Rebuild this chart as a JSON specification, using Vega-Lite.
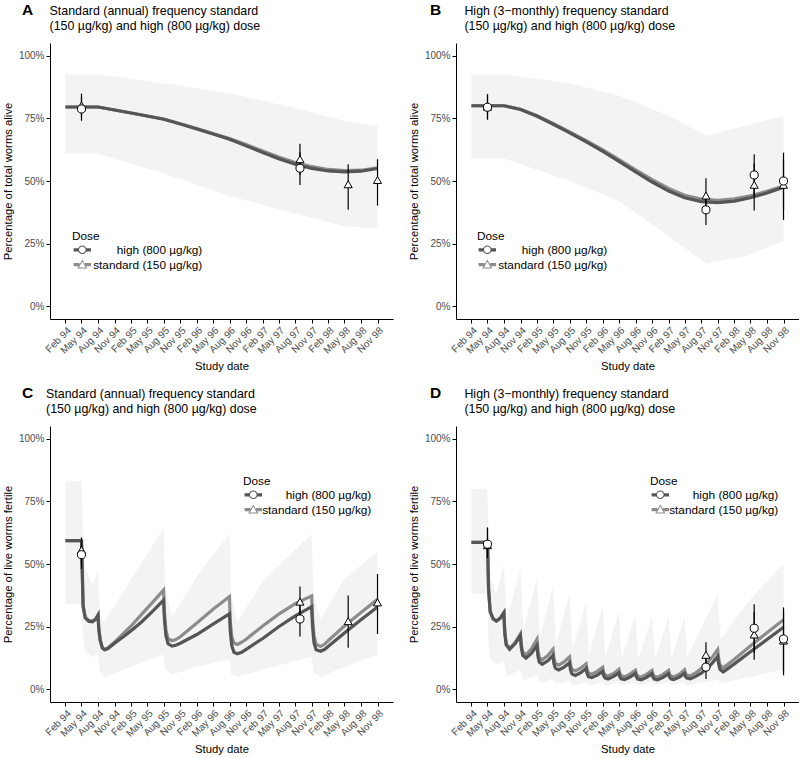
{
  "$schema": "https://vega.github.io/schema/vega-lite/v6.json",
  "padding": {"top": 2, "left": 2, "right": 0, "bottom": 0},
  "config": {
    "font": "Liberation Sans",
    "view": {"stroke": null},
    "axis": {"domainColor": "black", "tickColor": "black", "labelColor": "#4d4d4d", "titleColor": "black", "grid": false, "titleFontWeight": "normal", "titleFontSize": 11.3, "labelFontSize": 10, "tickSize": 4, "domainWidth": 1, "tickWidth": 1},
    "legend": {"labelFontSize": 11.8, "titleFontSize": 11.8, "titleFontWeight": "normal", "labelColor": "black", "titleColor": "black", "padding": 0, "titlePadding": 1.5, "rowPadding": 1.8},
    "title": {"color": "black", "subtitleColor": "black"}
  },
  "datasets": {
    "A_curve": [
      {"date": "1994-02-01", "dose": "high (800 µg/kg)", "pct": 79.5}, {"date": "1994-02-01", "dose": "standard (150 µg/kg)", "pct": 79.5},
      {"date": "1994-05-01", "dose": "high (800 µg/kg)", "pct": 79.5}, {"date": "1994-05-01", "dose": "standard (150 µg/kg)", "pct": 79.5},
      {"date": "1994-08-01", "dose": "high (800 µg/kg)", "pct": 79.5}, {"date": "1994-08-01", "dose": "standard (150 µg/kg)", "pct": 79.5},
      {"date": "1994-11-01", "dose": "high (800 µg/kg)", "pct": 78.3}, {"date": "1994-11-01", "dose": "standard (150 µg/kg)", "pct": 78.3},
      {"date": "1995-02-01", "dose": "high (800 µg/kg)", "pct": 77.1}, {"date": "1995-02-01", "dose": "standard (150 µg/kg)", "pct": 77.1},
      {"date": "1995-05-01", "dose": "high (800 µg/kg)", "pct": 75.9}, {"date": "1995-05-01", "dose": "standard (150 µg/kg)", "pct": 75.9},
      {"date": "1995-08-01", "dose": "high (800 µg/kg)", "pct": 74.6}, {"date": "1995-08-01", "dose": "standard (150 µg/kg)", "pct": 74.7},
      {"date": "1995-11-01", "dose": "high (800 µg/kg)", "pct": 72.7}, {"date": "1995-11-01", "dose": "standard (150 µg/kg)", "pct": 72.8},
      {"date": "1996-02-01", "dose": "high (800 µg/kg)", "pct": 70.7}, {"date": "1996-02-01", "dose": "standard (150 µg/kg)", "pct": 70.9},
      {"date": "1996-05-01", "dose": "high (800 µg/kg)", "pct": 68.7}, {"date": "1996-05-01", "dose": "standard (150 µg/kg)", "pct": 68.9},
      {"date": "1996-08-01", "dose": "high (800 µg/kg)", "pct": 66.6}, {"date": "1996-08-01", "dose": "standard (150 µg/kg)", "pct": 66.9},
      {"date": "1996-11-01", "dose": "high (800 µg/kg)", "pct": 64.0}, {"date": "1996-11-01", "dose": "standard (150 µg/kg)", "pct": 64.5},
      {"date": "1997-02-01", "dose": "high (800 µg/kg)", "pct": 61.4}, {"date": "1997-02-01", "dose": "standard (150 µg/kg)", "pct": 62.0},
      {"date": "1997-05-01", "dose": "high (800 µg/kg)", "pct": 58.9}, {"date": "1997-05-01", "dose": "standard (150 µg/kg)", "pct": 59.6},
      {"date": "1997-08-01", "dose": "high (800 µg/kg)", "pct": 56.7}, {"date": "1997-08-01", "dose": "standard (150 µg/kg)", "pct": 57.4},
      {"date": "1997-11-01", "dose": "high (800 µg/kg)", "pct": 55.0}, {"date": "1997-11-01", "dose": "standard (150 µg/kg)", "pct": 55.7},
      {"date": "1998-02-01", "dose": "high (800 µg/kg)", "pct": 54.0}, {"date": "1998-02-01", "dose": "standard (150 µg/kg)", "pct": 54.6},
      {"date": "1998-05-01", "dose": "high (800 µg/kg)", "pct": 53.6}, {"date": "1998-05-01", "dose": "standard (150 µg/kg)", "pct": 54.1},
      {"date": "1998-08-01", "dose": "high (800 µg/kg)", "pct": 53.9}, {"date": "1998-08-01", "dose": "standard (150 µg/kg)", "pct": 54.3},
      {"date": "1998-11-01", "dose": "high (800 µg/kg)", "pct": 55.0}, {"date": "1998-11-01", "dose": "standard (150 µg/kg)", "pct": 55.2}
    ],
    "A_band": [
      {"date": "1994-02-01", "lo": 61, "hi": 92.5}, {"date": "1994-08-01", "lo": 61, "hi": 92.5},
      {"date": "1995-08-01", "lo": 53, "hi": 89}, {"date": "1996-08-01", "lo": 44, "hi": 85},
      {"date": "1997-08-01", "lo": 37, "hi": 79}, {"date": "1998-05-01", "lo": 32, "hi": 74},
      {"date": "1998-11-01", "lo": 31, "hi": 72}
    ],
    "A_obs": [
      {"date": "1994-05-01", "dose": "standard (150 µg/kg)", "pct": 80.1, "lo": 75.5, "hi": 84.8},
      {"date": "1997-08-27", "dose": "standard (150 µg/kg)", "pct": 58.7, "lo": 52.5, "hi": 64.8},
      {"date": "1998-05-22", "dose": "standard (150 µg/kg)", "pct": 48.7, "lo": 38.5, "hi": 56.7},
      {"date": "1998-11-01", "dose": "standard (150 µg/kg)", "pct": 50.4, "lo": 40.2, "hi": 58.7},
      {"date": "1994-05-01", "dose": "high (800 µg/kg)", "pct": 78.7, "lo": 74, "hi": 84},
      {"date": "1997-08-27", "dose": "high (800 µg/kg)", "pct": 55.1, "lo": 48.4, "hi": 61.5}
    ],
    "B_curve": [
      {"date": "1994-02-01", "dose": "high (800 µg/kg)", "pct": 80}, {"date": "1994-02-01", "dose": "standard (150 µg/kg)", "pct": 80},
      {"date": "1994-05-01", "dose": "high (800 µg/kg)", "pct": 80}, {"date": "1994-05-01", "dose": "standard (150 µg/kg)", "pct": 80},
      {"date": "1994-08-01", "dose": "high (800 µg/kg)", "pct": 80}, {"date": "1994-08-01", "dose": "standard (150 µg/kg)", "pct": 80},
      {"date": "1994-11-01", "dose": "high (800 µg/kg)", "pct": 78.5}, {"date": "1994-11-01", "dose": "standard (150 µg/kg)", "pct": 78.6},
      {"date": "1995-02-01", "dose": "high (800 µg/kg)", "pct": 75.8}, {"date": "1995-02-01", "dose": "standard (150 µg/kg)", "pct": 76.0},
      {"date": "1995-05-01", "dose": "high (800 µg/kg)", "pct": 72.6}, {"date": "1995-05-01", "dose": "standard (150 µg/kg)", "pct": 72.9},
      {"date": "1995-08-01", "dose": "high (800 µg/kg)", "pct": 69.2}, {"date": "1995-08-01", "dose": "standard (150 µg/kg)", "pct": 69.6},
      {"date": "1995-11-01", "dose": "high (800 µg/kg)", "pct": 65.6}, {"date": "1995-11-01", "dose": "standard (150 µg/kg)", "pct": 66.1},
      {"date": "1996-02-01", "dose": "high (800 µg/kg)", "pct": 61.8}, {"date": "1996-02-01", "dose": "standard (150 µg/kg)", "pct": 62.4},
      {"date": "1996-05-01", "dose": "high (800 µg/kg)", "pct": 57.8}, {"date": "1996-05-01", "dose": "standard (150 µg/kg)", "pct": 58.5},
      {"date": "1996-08-01", "dose": "high (800 µg/kg)", "pct": 53.6}, {"date": "1996-08-01", "dose": "standard (150 µg/kg)", "pct": 54.4},
      {"date": "1996-11-01", "dose": "high (800 µg/kg)", "pct": 49.6}, {"date": "1996-11-01", "dose": "standard (150 µg/kg)", "pct": 50.5},
      {"date": "1997-02-01", "dose": "high (800 µg/kg)", "pct": 46.0}, {"date": "1997-02-01", "dose": "standard (150 µg/kg)", "pct": 47.0},
      {"date": "1997-05-01", "dose": "high (800 µg/kg)", "pct": 43.3}, {"date": "1997-05-01", "dose": "standard (150 µg/kg)", "pct": 44.3},
      {"date": "1997-08-01", "dose": "high (800 µg/kg)", "pct": 41.8}, {"date": "1997-08-01", "dose": "standard (150 µg/kg)", "pct": 42.8},
      {"date": "1997-11-01", "dose": "high (800 µg/kg)", "pct": 41.4}, {"date": "1997-11-01", "dose": "standard (150 µg/kg)", "pct": 42.3},
      {"date": "1998-02-01", "dose": "high (800 µg/kg)", "pct": 42.0}, {"date": "1998-02-01", "dose": "standard (150 µg/kg)", "pct": 42.9},
      {"date": "1998-05-01", "dose": "high (800 µg/kg)", "pct": 43.3}, {"date": "1998-05-01", "dose": "standard (150 µg/kg)", "pct": 44.1},
      {"date": "1998-08-01", "dose": "high (800 µg/kg)", "pct": 45.2}, {"date": "1998-08-01", "dose": "standard (150 µg/kg)", "pct": 45.9},
      {"date": "1998-11-01", "dose": "high (800 µg/kg)", "pct": 47.5}, {"date": "1998-11-01", "dose": "standard (150 µg/kg)", "pct": 48.0}
    ],
    "B_band": [
      {"date": "1994-02-01", "lo": 59, "hi": 92.5}, {"date": "1994-08-01", "lo": 59, "hi": 92.5},
      {"date": "1995-08-01", "lo": 50, "hi": 89}, {"date": "1996-05-01", "lo": 42, "hi": 84},
      {"date": "1997-02-01", "lo": 28, "hi": 76}, {"date": "1997-09-01", "lo": 17, "hi": 68},
      {"date": "1998-04-01", "lo": 20, "hi": 72}, {"date": "1998-11-01", "lo": 26, "hi": 76}
    ],
    "B_obs": [
      {"date": "1994-05-01", "dose": "standard (150 µg/kg)", "pct": 79.6, "lo": 74.8, "hi": 84.4},
      {"date": "1997-08-27", "dose": "standard (150 µg/kg)", "pct": 44.2, "lo": 37.5, "hi": 51.1},
      {"date": "1998-05-22", "dose": "standard (150 µg/kg)", "pct": 48.5, "lo": 38.2, "hi": 57},
      {"date": "1998-11-01", "dose": "standard (150 µg/kg)", "pct": 48.5, "lo": 34.5, "hi": 58},
      {"date": "1994-05-01", "dose": "high (800 µg/kg)", "pct": 79.4, "lo": 74.4, "hi": 84.6},
      {"date": "1997-08-27", "dose": "high (800 µg/kg)", "pct": 38.5, "lo": 32.5, "hi": 45},
      {"date": "1998-05-22", "dose": "high (800 µg/kg)", "pct": 52.4, "lo": 44, "hi": 60.7},
      {"date": "1998-11-01", "dose": "high (800 µg/kg)", "pct": 50, "lo": 38.5, "hi": 61.3}
    ],
    "C_curve": [
      {"date": "1994-02-01", "dose": "high (800 µg/kg)", "pct": 59.3}, {"date": "1994-02-01", "dose": "standard (150 µg/kg)", "pct": 59.3},
      {"date": "1994-05-01", "dose": "high (800 µg/kg)", "pct": 59.3}, {"date": "1994-05-01", "dose": "standard (150 µg/kg)", "pct": 59.3},
      {"date": "1994-05-10", "dose": "high (800 µg/kg)", "pct": 33.0}, {"date": "1994-05-10", "dose": "standard (150 µg/kg)", "pct": 33.5},
      {"date": "1994-05-22", "dose": "high (800 µg/kg)", "pct": 28.5}, {"date": "1994-05-22", "dose": "standard (150 µg/kg)", "pct": 28.8},
      {"date": "1994-06-10", "dose": "high (800 µg/kg)", "pct": 27.2}, {"date": "1994-06-10", "dose": "standard (150 µg/kg)", "pct": 27.4},
      {"date": "1994-07-01", "dose": "high (800 µg/kg)", "pct": 27.0}, {"date": "1994-07-01", "dose": "standard (150 µg/kg)", "pct": 27.2},
      {"date": "1994-07-19", "dose": "high (800 µg/kg)", "pct": 28.0}, {"date": "1994-07-19", "dose": "standard (150 µg/kg)", "pct": 28.2},
      {"date": "1994-08-01", "dose": "high (800 µg/kg)", "pct": 29.6}, {"date": "1994-08-01", "dose": "standard (150 µg/kg)", "pct": 29.8},
      {"date": "1994-08-05", "dose": "high (800 µg/kg)", "pct": 24.0}, {"date": "1994-08-05", "dose": "standard (150 µg/kg)", "pct": 24.3},
      {"date": "1994-08-13", "dose": "high (800 µg/kg)", "pct": 19.5}, {"date": "1994-08-13", "dose": "standard (150 µg/kg)", "pct": 19.7},
      {"date": "1994-08-25", "dose": "high (800 µg/kg)", "pct": 16.5}, {"date": "1994-08-25", "dose": "standard (150 µg/kg)", "pct": 16.6},
      {"date": "1994-09-07", "dose": "high (800 µg/kg)", "pct": 15.8}, {"date": "1994-09-07", "dose": "standard (150 µg/kg)", "pct": 15.9},
      {"date": "1994-09-25", "dose": "high (800 µg/kg)", "pct": 16.3}, {"date": "1994-09-25", "dose": "standard (150 µg/kg)", "pct": 16.5},
      {"date": "1994-11-01", "dose": "high (800 µg/kg)", "pct": 18.4}, {"date": "1994-11-01", "dose": "standard (150 µg/kg)", "pct": 18.9},
      {"date": "1994-12-16", "dose": "high (800 µg/kg)", "pct": 20.8}, {"date": "1994-12-16", "dose": "standard (150 µg/kg)", "pct": 22.0},
      {"date": "1995-02-01", "dose": "high (800 µg/kg)", "pct": 23.4}, {"date": "1995-02-01", "dose": "standard (150 µg/kg)", "pct": 25.3},
      {"date": "1995-04-01", "dose": "high (800 µg/kg)", "pct": 27.0}, {"date": "1995-04-01", "dose": "standard (150 µg/kg)", "pct": 30.0},
      {"date": "1995-06-01", "dose": "high (800 µg/kg)", "pct": 31.2}, {"date": "1995-06-01", "dose": "standard (150 µg/kg)", "pct": 34.8},
      {"date": "1995-07-31", "dose": "high (800 µg/kg)", "pct": 35.6}, {"date": "1995-07-31", "dose": "standard (150 µg/kg)", "pct": 39.6},
      {"date": "1995-08-05", "dose": "high (800 µg/kg)", "pct": 28.0}, {"date": "1995-08-05", "dose": "standard (150 µg/kg)", "pct": 30.5},
      {"date": "1995-08-13", "dose": "high (800 µg/kg)", "pct": 21.5}, {"date": "1995-08-13", "dose": "standard (150 µg/kg)", "pct": 23.5},
      {"date": "1995-08-25", "dose": "high (800 µg/kg)", "pct": 18.2}, {"date": "1995-08-25", "dose": "standard (150 µg/kg)", "pct": 20.2},
      {"date": "1995-09-16", "dose": "high (800 µg/kg)", "pct": 17.3}, {"date": "1995-09-16", "dose": "standard (150 µg/kg)", "pct": 19.4},
      {"date": "1995-10-07", "dose": "high (800 µg/kg)", "pct": 17.6}, {"date": "1995-10-07", "dose": "standard (150 µg/kg)", "pct": 19.9},
      {"date": "1995-11-01", "dose": "high (800 µg/kg)", "pct": 18.4}, {"date": "1995-11-01", "dose": "standard (150 µg/kg)", "pct": 21.0},
      {"date": "1996-02-01", "dose": "high (800 µg/kg)", "pct": 21.9}, {"date": "1996-02-01", "dose": "standard (150 µg/kg)", "pct": 26.5},
      {"date": "1996-05-01", "dose": "high (800 µg/kg)", "pct": 26.0}, {"date": "1996-05-01", "dose": "standard (150 µg/kg)", "pct": 32.0},
      {"date": "1996-07-31", "dose": "high (800 µg/kg)", "pct": 30.1}, {"date": "1996-07-31", "dose": "standard (150 µg/kg)", "pct": 37.0},
      {"date": "1996-08-05", "dose": "high (800 µg/kg)", "pct": 23.0}, {"date": "1996-08-05", "dose": "standard (150 µg/kg)", "pct": 27.0},
      {"date": "1996-08-13", "dose": "high (800 µg/kg)", "pct": 17.5}, {"date": "1996-08-13", "dose": "standard (150 µg/kg)", "pct": 21.0},
      {"date": "1996-08-25", "dose": "high (800 µg/kg)", "pct": 14.8}, {"date": "1996-08-25", "dose": "standard (150 µg/kg)", "pct": 18.5},
      {"date": "1996-09-13", "dose": "high (800 µg/kg)", "pct": 14.2}, {"date": "1996-09-13", "dose": "standard (150 µg/kg)", "pct": 17.9},
      {"date": "1996-10-07", "dose": "high (800 µg/kg)", "pct": 14.8}, {"date": "1996-10-07", "dose": "standard (150 µg/kg)", "pct": 18.8},
      {"date": "1996-11-01", "dose": "high (800 µg/kg)", "pct": 16.0}, {"date": "1996-11-01", "dose": "standard (150 µg/kg)", "pct": 20.0},
      {"date": "1997-02-01", "dose": "high (800 µg/kg)", "pct": 20.3}, {"date": "1997-02-01", "dose": "standard (150 µg/kg)", "pct": 25.3},
      {"date": "1997-05-01", "dose": "high (800 µg/kg)", "pct": 25.0}, {"date": "1997-05-01", "dose": "standard (150 µg/kg)", "pct": 30.0},
      {"date": "1997-08-01", "dose": "high (800 µg/kg)", "pct": 29.3}, {"date": "1997-08-01", "dose": "standard (150 µg/kg)", "pct": 34.2},
      {"date": "1997-10-31", "dose": "high (800 µg/kg)", "pct": 33.0}, {"date": "1997-10-31", "dose": "standard (150 µg/kg)", "pct": 37.3},
      {"date": "1997-11-05", "dose": "high (800 µg/kg)", "pct": 25.0}, {"date": "1997-11-05", "dose": "standard (150 µg/kg)", "pct": 28.0},
      {"date": "1997-11-13", "dose": "high (800 µg/kg)", "pct": 18.5}, {"date": "1997-11-13", "dose": "standard (150 µg/kg)", "pct": 21.5},
      {"date": "1997-11-25", "dose": "high (800 µg/kg)", "pct": 15.8}, {"date": "1997-11-25", "dose": "standard (150 µg/kg)", "pct": 18.0},
      {"date": "1997-12-19", "dose": "high (800 µg/kg)", "pct": 15.2}, {"date": "1997-12-19", "dose": "standard (150 µg/kg)", "pct": 17.1},
      {"date": "1998-01-10", "dose": "high (800 µg/kg)", "pct": 15.9}, {"date": "1998-01-10", "dose": "standard (150 µg/kg)", "pct": 18.0},
      {"date": "1998-02-01", "dose": "high (800 µg/kg)", "pct": 17.2}, {"date": "1998-02-01", "dose": "standard (150 µg/kg)", "pct": 19.5},
      {"date": "1998-05-01", "dose": "high (800 µg/kg)", "pct": 22.5}, {"date": "1998-05-01", "dose": "standard (150 µg/kg)", "pct": 25.3},
      {"date": "1998-08-01", "dose": "high (800 µg/kg)", "pct": 27.8}, {"date": "1998-08-01", "dose": "standard (150 µg/kg)", "pct": 30.7},
      {"date": "1998-11-01", "dose": "high (800 µg/kg)", "pct": 32.9}, {"date": "1998-11-01", "dose": "standard (150 µg/kg)", "pct": 35.9}
    ],
    "C_band": [
      {"date": "1994-02-01", "lo": 34, "hi": 83}, {"date": "1994-04-30", "lo": 34, "hi": 83},
      {"date": "1994-05-10", "lo": 20, "hi": 62}, {"date": "1994-05-22", "lo": 15, "hi": 48},
      {"date": "1994-07-01", "lo": 13, "hi": 42}, {"date": "1994-07-31", "lo": 14, "hi": 47},
      {"date": "1994-08-10", "lo": 7, "hi": 30}, {"date": "1994-09-07", "lo": 5, "hi": 27},
      {"date": "1995-02-01", "lo": 9, "hi": 44}, {"date": "1995-07-31", "lo": 14, "hi": 64},
      {"date": "1995-08-10", "lo": 8, "hi": 40}, {"date": "1995-09-16", "lo": 6, "hi": 29},
      {"date": "1996-02-01", "lo": 9, "hi": 45}, {"date": "1996-07-31", "lo": 12, "hi": 62},
      {"date": "1996-08-10", "lo": 6, "hi": 38}, {"date": "1996-09-13", "lo": 5, "hi": 27},
      {"date": "1997-02-01", "lo": 8, "hi": 43}, {"date": "1997-10-31", "lo": 13, "hi": 62},
      {"date": "1997-11-10", "lo": 7, "hi": 38}, {"date": "1997-12-19", "lo": 5, "hi": 28},
      {"date": "1998-05-01", "lo": 9, "hi": 44}, {"date": "1998-11-01", "lo": 14, "hi": 55}
    ],
    "C_obs": [
      {"date": "1994-05-01", "dose": "standard (150 µg/kg)", "pct": 55.6, "lo": 50, "hi": 60.6},
      {"date": "1997-08-27", "dose": "standard (150 µg/kg)", "pct": 35, "lo": 29, "hi": 41},
      {"date": "1998-05-22", "dose": "standard (150 µg/kg)", "pct": 27.2, "lo": 16.6, "hi": 37.4},
      {"date": "1998-11-01", "dose": "standard (150 µg/kg)", "pct": 34.7, "lo": 22.1, "hi": 46},
      {"date": "1994-05-01", "dose": "high (800 µg/kg)", "pct": 53.7, "lo": 48, "hi": 59},
      {"date": "1997-08-27", "dose": "high (800 µg/kg)", "pct": 28.1, "lo": 21.1, "hi": 35}
    ],
    "D_curve": [
      {"date": "1994-02-01", "dose": "high (800 µg/kg)", "pct": 58.6}, {"date": "1994-02-01", "dose": "standard (150 µg/kg)", "pct": 58.6},
      {"date": "1994-05-01", "dose": "high (800 µg/kg)", "pct": 58.6}, {"date": "1994-05-01", "dose": "standard (150 µg/kg)", "pct": 58.6},
      {"date": "1994-05-07", "dose": "high (800 µg/kg)", "pct": 40.0}, {"date": "1994-05-07", "dose": "standard (150 µg/kg)", "pct": 40.0},
      {"date": "1994-05-16", "dose": "high (800 µg/kg)", "pct": 31.0}, {"date": "1994-05-16", "dose": "standard (150 µg/kg)", "pct": 31.0},
      {"date": "1994-06-01", "dose": "high (800 µg/kg)", "pct": 28.2}, {"date": "1994-06-01", "dose": "standard (150 µg/kg)", "pct": 28.2},
      {"date": "1994-06-19", "dose": "high (800 µg/kg)", "pct": 27.3}, {"date": "1994-06-19", "dose": "standard (150 µg/kg)", "pct": 27.3},
      {"date": "1994-07-10", "dose": "high (800 µg/kg)", "pct": 28.3}, {"date": "1994-07-10", "dose": "standard (150 µg/kg)", "pct": 28.3},
      {"date": "1994-07-31", "dose": "high (800 µg/kg)", "pct": 30.6}, {"date": "1994-07-31", "dose": "standard (150 µg/kg)", "pct": 30.6},
      {"date": "1994-08-05", "dose": "high (800 µg/kg)", "pct": 22.6}, {"date": "1994-08-05", "dose": "standard (150 µg/kg)", "pct": 22.8},
      {"date": "1994-08-13", "dose": "high (800 µg/kg)", "pct": 17.8}, {"date": "1994-08-13", "dose": "standard (150 µg/kg)", "pct": 18.1},
      {"date": "1994-09-01", "dose": "high (800 µg/kg)", "pct": 16.0}, {"date": "1994-09-01", "dose": "standard (150 µg/kg)", "pct": 16.4},
      {"date": "1994-10-01", "dose": "high (800 µg/kg)", "pct": 18.2}, {"date": "1994-10-01", "dose": "standard (150 µg/kg)", "pct": 18.7},
      {"date": "1994-10-31", "dose": "high (800 µg/kg)", "pct": 21.5}, {"date": "1994-10-31", "dose": "standard (150 µg/kg)", "pct": 22.2},
      {"date": "1994-11-05", "dose": "high (800 µg/kg)", "pct": 16.6}, {"date": "1994-11-05", "dose": "standard (150 µg/kg)", "pct": 17.6},
      {"date": "1994-11-13", "dose": "high (800 µg/kg)", "pct": 13.6}, {"date": "1994-11-13", "dose": "standard (150 µg/kg)", "pct": 14.8},
      {"date": "1994-12-01", "dose": "high (800 µg/kg)", "pct": 12.5}, {"date": "1994-12-01", "dose": "standard (150 µg/kg)", "pct": 13.8},
      {"date": "1995-01-01", "dose": "high (800 µg/kg)", "pct": 14.5}, {"date": "1995-01-01", "dose": "standard (150 µg/kg)", "pct": 16.3},
      {"date": "1995-01-31", "dose": "high (800 µg/kg)", "pct": 17.6}, {"date": "1995-01-31", "dose": "standard (150 µg/kg)", "pct": 20.0},
      {"date": "1995-02-05", "dose": "high (800 µg/kg)", "pct": 13.4}, {"date": "1995-02-05", "dose": "standard (150 µg/kg)", "pct": 15.5},
      {"date": "1995-02-13", "dose": "high (800 µg/kg)", "pct": 10.9}, {"date": "1995-02-13", "dose": "standard (150 µg/kg)", "pct": 12.8},
      {"date": "1995-03-01", "dose": "high (800 µg/kg)", "pct": 10.0}, {"date": "1995-03-01", "dose": "standard (150 µg/kg)", "pct": 11.8},
      {"date": "1995-04-01", "dose": "high (800 µg/kg)", "pct": 11.4}, {"date": "1995-04-01", "dose": "standard (150 µg/kg)", "pct": 13.5},
      {"date": "1995-04-30", "dose": "high (800 µg/kg)", "pct": 13.6}, {"date": "1995-04-30", "dose": "standard (150 µg/kg)", "pct": 16.0},
      {"date": "1995-05-05", "dose": "high (800 µg/kg)", "pct": 10.4}, {"date": "1995-05-05", "dose": "standard (150 µg/kg)", "pct": 12.5},
      {"date": "1995-05-13", "dose": "high (800 µg/kg)", "pct": 8.5}, {"date": "1995-05-13", "dose": "standard (150 µg/kg)", "pct": 10.5},
      {"date": "1995-06-01", "dose": "high (800 µg/kg)", "pct": 7.8}, {"date": "1995-06-01", "dose": "standard (150 µg/kg)", "pct": 9.7},
      {"date": "1995-07-01", "dose": "high (800 µg/kg)", "pct": 8.9}, {"date": "1995-07-01", "dose": "standard (150 µg/kg)", "pct": 11.0},
      {"date": "1995-07-31", "dose": "high (800 µg/kg)", "pct": 10.6}, {"date": "1995-07-31", "dose": "standard (150 µg/kg)", "pct": 13.0},
      {"date": "1995-08-05", "dose": "high (800 µg/kg)", "pct": 7.9}, {"date": "1995-08-05", "dose": "standard (150 µg/kg)", "pct": 9.9},
      {"date": "1995-08-13", "dose": "high (800 µg/kg)", "pct": 6.2}, {"date": "1995-08-13", "dose": "standard (150 µg/kg)", "pct": 8.1},
      {"date": "1995-09-01", "dose": "high (800 µg/kg)", "pct": 5.6}, {"date": "1995-09-01", "dose": "standard (150 µg/kg)", "pct": 7.4},
      {"date": "1995-10-01", "dose": "high (800 µg/kg)", "pct": 6.7}, {"date": "1995-10-01", "dose": "standard (150 µg/kg)", "pct": 8.5},
      {"date": "1995-10-31", "dose": "high (800 µg/kg)", "pct": 8.4}, {"date": "1995-10-31", "dose": "standard (150 µg/kg)", "pct": 10.2},
      {"date": "1995-11-05", "dose": "high (800 µg/kg)", "pct": 6.4}, {"date": "1995-11-05", "dose": "standard (150 µg/kg)", "pct": 8.0},
      {"date": "1995-11-13", "dose": "high (800 µg/kg)", "pct": 5.1}, {"date": "1995-11-13", "dose": "standard (150 µg/kg)", "pct": 6.6},
      {"date": "1995-12-01", "dose": "high (800 µg/kg)", "pct": 4.7}, {"date": "1995-12-01", "dose": "standard (150 µg/kg)", "pct": 6.1},
      {"date": "1996-01-01", "dose": "high (800 µg/kg)", "pct": 5.7}, {"date": "1996-01-01", "dose": "standard (150 µg/kg)", "pct": 7.2},
      {"date": "1996-01-31", "dose": "high (800 µg/kg)", "pct": 7.2}, {"date": "1996-01-31", "dose": "standard (150 µg/kg)", "pct": 8.8},
      {"date": "1996-02-05", "dose": "high (800 µg/kg)", "pct": 5.6}, {"date": "1996-02-05", "dose": "standard (150 µg/kg)", "pct": 6.9},
      {"date": "1996-02-13", "dose": "high (800 µg/kg)", "pct": 4.6}, {"date": "1996-02-13", "dose": "standard (150 µg/kg)", "pct": 5.8},
      {"date": "1996-03-01", "dose": "high (800 µg/kg)", "pct": 4.2}, {"date": "1996-03-01", "dose": "standard (150 µg/kg)", "pct": 5.4},
      {"date": "1996-04-01", "dose": "high (800 µg/kg)", "pct": 5.2}, {"date": "1996-04-01", "dose": "standard (150 µg/kg)", "pct": 6.4},
      {"date": "1996-04-30", "dose": "high (800 µg/kg)", "pct": 6.6}, {"date": "1996-04-30", "dose": "standard (150 µg/kg)", "pct": 8.0},
      {"date": "1996-05-05", "dose": "high (800 µg/kg)", "pct": 5.1}, {"date": "1996-05-05", "dose": "standard (150 µg/kg)", "pct": 6.4},
      {"date": "1996-05-13", "dose": "high (800 µg/kg)", "pct": 4.2}, {"date": "1996-05-13", "dose": "standard (150 µg/kg)", "pct": 5.4},
      {"date": "1996-06-01", "dose": "high (800 µg/kg)", "pct": 3.9}, {"date": "1996-06-01", "dose": "standard (150 µg/kg)", "pct": 5.0},
      {"date": "1996-07-01", "dose": "high (800 µg/kg)", "pct": 4.9}, {"date": "1996-07-01", "dose": "standard (150 µg/kg)", "pct": 6.1},
      {"date": "1996-07-31", "dose": "high (800 µg/kg)", "pct": 6.4}, {"date": "1996-07-31", "dose": "standard (150 µg/kg)", "pct": 7.7},
      {"date": "1996-08-05", "dose": "high (800 µg/kg)", "pct": 5.0}, {"date": "1996-08-05", "dose": "standard (150 µg/kg)", "pct": 6.2},
      {"date": "1996-08-13", "dose": "high (800 µg/kg)", "pct": 4.1}, {"date": "1996-08-13", "dose": "standard (150 µg/kg)", "pct": 5.2},
      {"date": "1996-09-01", "dose": "high (800 µg/kg)", "pct": 3.8}, {"date": "1996-09-01", "dose": "standard (150 µg/kg)", "pct": 4.9},
      {"date": "1996-10-01", "dose": "high (800 µg/kg)", "pct": 4.8}, {"date": "1996-10-01", "dose": "standard (150 µg/kg)", "pct": 6.0},
      {"date": "1996-10-31", "dose": "high (800 µg/kg)", "pct": 6.3}, {"date": "1996-10-31", "dose": "standard (150 µg/kg)", "pct": 7.6},
      {"date": "1996-11-05", "dose": "high (800 µg/kg)", "pct": 4.9}, {"date": "1996-11-05", "dose": "standard (150 µg/kg)", "pct": 6.1},
      {"date": "1996-11-13", "dose": "high (800 µg/kg)", "pct": 4.1}, {"date": "1996-11-13", "dose": "standard (150 µg/kg)", "pct": 5.2},
      {"date": "1996-12-01", "dose": "high (800 µg/kg)", "pct": 3.8}, {"date": "1996-12-01", "dose": "standard (150 µg/kg)", "pct": 4.9},
      {"date": "1997-01-01", "dose": "high (800 µg/kg)", "pct": 4.8}, {"date": "1997-01-01", "dose": "standard (150 µg/kg)", "pct": 6.0},
      {"date": "1997-01-31", "dose": "high (800 µg/kg)", "pct": 6.3}, {"date": "1997-01-31", "dose": "standard (150 µg/kg)", "pct": 7.6},
      {"date": "1997-02-05", "dose": "high (800 µg/kg)", "pct": 5.0}, {"date": "1997-02-05", "dose": "standard (150 µg/kg)", "pct": 6.2},
      {"date": "1997-02-13", "dose": "high (800 µg/kg)", "pct": 4.2}, {"date": "1997-02-13", "dose": "standard (150 µg/kg)", "pct": 5.3},
      {"date": "1997-03-01", "dose": "high (800 µg/kg)", "pct": 3.9}, {"date": "1997-03-01", "dose": "standard (150 µg/kg)", "pct": 5.0},
      {"date": "1997-04-01", "dose": "high (800 µg/kg)", "pct": 4.9}, {"date": "1997-04-01", "dose": "standard (150 µg/kg)", "pct": 6.1},
      {"date": "1997-04-30", "dose": "high (800 µg/kg)", "pct": 6.4}, {"date": "1997-04-30", "dose": "standard (150 µg/kg)", "pct": 7.8},
      {"date": "1997-05-05", "dose": "high (800 µg/kg)", "pct": 5.2}, {"date": "1997-05-05", "dose": "standard (150 µg/kg)", "pct": 6.5},
      {"date": "1997-05-13", "dose": "high (800 µg/kg)", "pct": 4.5}, {"date": "1997-05-13", "dose": "standard (150 µg/kg)", "pct": 5.7},
      {"date": "1997-06-01", "dose": "high (800 µg/kg)", "pct": 4.2}, {"date": "1997-06-01", "dose": "standard (150 µg/kg)", "pct": 5.4},
      {"date": "1997-07-01", "dose": "high (800 µg/kg)", "pct": 5.2}, {"date": "1997-07-01", "dose": "standard (150 µg/kg)", "pct": 6.6},
      {"date": "1997-08-01", "dose": "high (800 µg/kg)", "pct": 6.5}, {"date": "1997-08-01", "dose": "standard (150 µg/kg)", "pct": 8.3},
      {"date": "1997-09-01", "dose": "high (800 µg/kg)", "pct": 8.3}, {"date": "1997-09-01", "dose": "standard (150 µg/kg)", "pct": 10.4},
      {"date": "1997-10-01", "dose": "high (800 µg/kg)", "pct": 10.5}, {"date": "1997-10-01", "dose": "standard (150 µg/kg)", "pct": 12.9},
      {"date": "1997-10-31", "dose": "high (800 µg/kg)", "pct": 13.2}, {"date": "1997-10-31", "dose": "standard (150 µg/kg)", "pct": 15.9},
      {"date": "1997-11-05", "dose": "high (800 µg/kg)", "pct": 10.4}, {"date": "1997-11-05", "dose": "standard (150 µg/kg)", "pct": 12.5},
      {"date": "1997-11-13", "dose": "high (800 µg/kg)", "pct": 8.0}, {"date": "1997-11-13", "dose": "standard (150 µg/kg)", "pct": 9.8},
      {"date": "1997-12-01", "dose": "high (800 µg/kg)", "pct": 7.0}, {"date": "1997-12-01", "dose": "standard (150 µg/kg)", "pct": 8.6},
      {"date": "1998-02-01", "dose": "high (800 µg/kg)", "pct": 10.2}, {"date": "1998-02-01", "dose": "standard (150 µg/kg)", "pct": 12.0},
      {"date": "1998-05-01", "dose": "high (800 µg/kg)", "pct": 15.0}, {"date": "1998-05-01", "dose": "standard (150 µg/kg)", "pct": 17.3},
      {"date": "1998-08-01", "dose": "high (800 µg/kg)", "pct": 19.9}, {"date": "1998-08-01", "dose": "standard (150 µg/kg)", "pct": 22.6},
      {"date": "1998-11-01", "dose": "high (800 µg/kg)", "pct": 24.8}, {"date": "1998-11-01", "dose": "standard (150 µg/kg)", "pct": 27.8}
    ],
    "D_band": [
      {"date": "1994-02-01", "lo": 38, "hi": 80}, {"date": "1994-04-30", "lo": 38, "hi": 80},
      {"date": "1994-05-07", "lo": 18, "hi": 60}, {"date": "1994-05-16", "lo": 12, "hi": 45},
      {"date": "1994-06-19", "lo": 10, "hi": 38}, {"date": "1994-07-31", "lo": 11, "hi": 50},
      {"date": "1994-08-16", "lo": 5, "hi": 28}, {"date": "1994-10-31", "lo": 8, "hi": 48},
      {"date": "1994-11-16", "lo": 3.5, "hi": 24}, {"date": "1995-01-31", "lo": 6, "hi": 44},
      {"date": "1995-02-16", "lo": 2.5, "hi": 21}, {"date": "1995-04-30", "lo": 4.5, "hi": 41},
      {"date": "1995-05-16", "lo": 2, "hi": 18}, {"date": "1995-07-31", "lo": 3.5, "hi": 38},
      {"date": "1995-08-16", "lo": 1.5, "hi": 16}, {"date": "1995-10-31", "lo": 3, "hi": 35},
      {"date": "1995-11-16", "lo": 1.5, "hi": 14}, {"date": "1996-01-31", "lo": 3, "hi": 33},
      {"date": "1996-02-16", "lo": 1.5, "hi": 13}, {"date": "1996-04-30", "lo": 3, "hi": 31},
      {"date": "1996-05-16", "lo": 1.5, "hi": 12}, {"date": "1996-07-31", "lo": 3, "hi": 30},
      {"date": "1996-08-16", "lo": 1.5, "hi": 12}, {"date": "1996-10-31", "lo": 3, "hi": 29},
      {"date": "1996-11-16", "lo": 1.5, "hi": 12}, {"date": "1997-01-31", "lo": 3, "hi": 29},
      {"date": "1997-02-16", "lo": 1.5, "hi": 12}, {"date": "1997-04-30", "lo": 3, "hi": 29},
      {"date": "1997-05-16", "lo": 1.5, "hi": 13}, {"date": "1997-10-31", "lo": 4, "hi": 38},
      {"date": "1997-11-16", "lo": 2.5, "hi": 20}, {"date": "1998-05-01", "lo": 5, "hi": 36},
      {"date": "1998-11-01", "lo": 8, "hi": 50}
    ],
    "D_obs": [
      {"date": "1994-05-01", "dose": "standard (150 µg/kg)", "pct": 57.5, "lo": 52.8, "hi": 64},
      {"date": "1997-08-27", "dose": "standard (150 µg/kg)", "pct": 13.8, "lo": 9, "hi": 18.8},
      {"date": "1998-05-22", "dose": "standard (150 µg/kg)", "pct": 21.9, "lo": 11.8, "hi": 31},
      {"date": "1998-11-01", "dose": "standard (150 µg/kg)", "pct": 19.5, "lo": 7, "hi": 31},
      {"date": "1994-05-01", "dose": "high (800 µg/kg)", "pct": 57.9, "lo": 52.4, "hi": 64.6},
      {"date": "1997-08-27", "dose": "high (800 µg/kg)", "pct": 8.9, "lo": 4.2, "hi": 14},
      {"date": "1998-05-22", "dose": "high (800 µg/kg)", "pct": 24.4, "lo": 14.5, "hi": 34},
      {"date": "1998-11-01", "dose": "high (800 µg/kg)", "pct": 20.1, "lo": 5.6, "hi": 32.7}
    ]
  },
  "vconcat": [
    {
      "hconcat": [
        {
          "width": 343, "height": 276,
          "title": {"text": "A", "subtitle": ["\u200b\u00a0\u00a0\u00a0\u00a0\u00a0\u00a0\u00a0\u00a0Standard (annual) frequency standard", "\u200b\u00a0\u00a0\u00a0\u00a0\u00a0\u00a0\u00a0\u00a0(150 µg/kg) and high (800 µg/kg) dose"], "anchor": "start", "frame": "group", "dx": -28, "fontSize": 15.5, "fontWeight": "bold", "subtitleFontSize": 12.4, "subtitleFontWeight": "normal", "subtitleLineHeight": 14.3, "subtitlePadding": -13, "offset": 11},
          "encoding": {
            "x": {"field": "date", "type": "temporal", "title": "Study date",
              "scale": {"type": "utc", "nice": false, "domain": [{"year": 1993, "month": 11, "date": 7, "utc": true}, {"year": 1999, "month": 1, "date": 26, "utc": true}]},
              "axis": {"values": [{"year": 1994, "month": 2, "date": 1, "utc": true}, {"year": 1994, "month": 5, "date": 1, "utc": true}, {"year": 1994, "month": 8, "date": 1, "utc": true}, {"year": 1994, "month": 11, "date": 1, "utc": true}, {"year": 1995, "month": 2, "date": 1, "utc": true}, {"year": 1995, "month": 5, "date": 1, "utc": true}, {"year": 1995, "month": 8, "date": 1, "utc": true}, {"year": 1995, "month": 11, "date": 1, "utc": true}, {"year": 1996, "month": 2, "date": 1, "utc": true}, {"year": 1996, "month": 5, "date": 1, "utc": true}, {"year": 1996, "month": 8, "date": 1, "utc": true}, {"year": 1996, "month": 11, "date": 1, "utc": true}, {"year": 1997, "month": 2, "date": 1, "utc": true}, {"year": 1997, "month": 5, "date": 1, "utc": true}, {"year": 1997, "month": 8, "date": 1, "utc": true}, {"year": 1997, "month": 11, "date": 1, "utc": true}, {"year": 1998, "month": 2, "date": 1, "utc": true}, {"year": 1998, "month": 5, "date": 1, "utc": true}, {"year": 1998, "month": 8, "date": 1, "utc": true}, {"year": 1998, "month": 11, "date": 1, "utc": true}],
                "labelExpr": "utcFormat(datum.value, '%b %y')", "labelAngle": -45, "labelAlign": "right", "labelBaseline": "top", "labelFontSize": 10, "labelPadding": 2, "titlePadding": 5, "labelOverlap": false}
            }
          },
          "layer": [
            {"data": {"name": "A_band"}, "mark": {"type": "area", "color": "#e8e8e8", "opacity": 0.5},
              "encoding": {"y": {"field": "lo", "type": "quantitative", "title": "Percentage of total worms alive", "scale": {"domain": [-5, 105], "nice": false, "zero": false}, "axis": {"values": [0, 25, 50, 75, 100], "labelExpr": "datum.value + '%'", "titlePadding": 4.5}}, "y2": {"field": "hi"}}},
            {"data": {"name": "A_curve"}, "transform": [{"filter": {"field": "dose", "equal": "standard (150 µg/kg)"}}], "mark": {"type": "line", "strokeWidth": 3.2},
              "encoding": {"y": {"field": "pct", "type": "quantitative", "title": "Percentage of total worms alive"}, "color": {"field": "dose", "type": "nominal", "scale": {"domain": ["high (800 µg/kg)", "standard (150 µg/kg)"], "range": ["#555555", "#8c8c8c"]},
                "legend": {"title": "Dose", "orient": "none", "legendX": 22, "legendY": 187.5, "symbolSize": 144, "symbolStrokeWidth": 0, "symbolOffset": 4.3, "labelAlign": "right", "labelOffset": 114,
                  "encode": {"symbols": {"update": {"shape": {"signal": "datum.value === 'high (800 µg/kg)' ? 'M-1.45,-0.27H-0.6V0.27H-1.45Z M0.6,-0.27H1.45V0.27H0.6Z M0.72,0A0.72,0.72 0 1,1 -0.72,0A0.72,0.72 0 1,1 0.72,0Z M0.55,0A0.55,0.55 0 1,0 -0.55,0A0.55,0.55 0 1,0 0.55,0Z' : 'M-1.45,-0.27H-0.46V0.27H-1.45Z M0.46,-0.27H1.45V0.27H0.46Z M0,-0.85L0.85,0.65L-0.85,0.65Z M0,-0.505L-0.558,0.48L0.558,0.48Z'"}, "fill": {"signal": "datum.value === 'high (800 µg/kg)' ? '#555555' : '#8c8c8c'"}, "fillOpacity": {"value": 1}, "strokeWidth": {"value": 0}}}}}}}},
            {"data": {"name": "A_curve"}, "transform": [{"filter": {"field": "dose", "equal": "high (800 µg/kg)"}}], "mark": {"type": "line", "strokeWidth": 3.2},
              "encoding": {"y": {"field": "pct", "type": "quantitative", "title": "Percentage of total worms alive"}, "color": {"field": "dose", "type": "nominal"}}},
            {"data": {"name": "A_obs"}, "mark": {"type": "rule", "color": "black", "strokeWidth": 1.2},
              "encoding": {"y": {"field": "lo", "type": "quantitative", "title": "Percentage of total worms alive"}, "y2": {"field": "hi"}}},
            {"data": {"name": "A_obs"}, "mark": {"type": "point", "filled": true, "fill": "white", "stroke": "black", "strokeWidth": 1, "size": 65, "opacity": 1},
              "encoding": {"y": {"field": "pct", "type": "quantitative", "title": "Percentage of total worms alive"}, "shape": {"field": "dose", "type": "nominal", "scale": {"range": ["circle", "triangle-up"]}, "legend": null}}}
          ]
        },
        {
          "width": 343, "height": 276,
          "title": {"text": "B", "subtitle": ["\u200b\u00a0\u00a0\u00a0\u00a0\u00a0\u00a0\u00a0\u00a0\u00a0\u00a0High (3−monthly) frequency standard", "\u200b\u00a0\u00a0\u00a0\u00a0\u00a0\u00a0\u00a0\u00a0\u00a0\u00a0(150 µg/kg) and high (800 µg/kg) dose"], "anchor": "start", "frame": "group", "dx": -26, "fontSize": 15.5, "fontWeight": "bold", "subtitleFontSize": 12.4, "subtitleFontWeight": "normal", "subtitleLineHeight": 14.3, "subtitlePadding": -13, "offset": 11},
          "encoding": {
            "x": {"field": "date", "type": "temporal", "title": "Study date",
              "scale": {"type": "utc", "nice": false, "domain": [{"year": 1993, "month": 11, "date": 7, "utc": true}, {"year": 1999, "month": 1, "date": 26, "utc": true}]},
              "axis": {"values": [{"year": 1994, "month": 2, "date": 1, "utc": true}, {"year": 1994, "month": 5, "date": 1, "utc": true}, {"year": 1994, "month": 8, "date": 1, "utc": true}, {"year": 1994, "month": 11, "date": 1, "utc": true}, {"year": 1995, "month": 2, "date": 1, "utc": true}, {"year": 1995, "month": 5, "date": 1, "utc": true}, {"year": 1995, "month": 8, "date": 1, "utc": true}, {"year": 1995, "month": 11, "date": 1, "utc": true}, {"year": 1996, "month": 2, "date": 1, "utc": true}, {"year": 1996, "month": 5, "date": 1, "utc": true}, {"year": 1996, "month": 8, "date": 1, "utc": true}, {"year": 1996, "month": 11, "date": 1, "utc": true}, {"year": 1997, "month": 2, "date": 1, "utc": true}, {"year": 1997, "month": 5, "date": 1, "utc": true}, {"year": 1997, "month": 8, "date": 1, "utc": true}, {"year": 1997, "month": 11, "date": 1, "utc": true}, {"year": 1998, "month": 2, "date": 1, "utc": true}, {"year": 1998, "month": 5, "date": 1, "utc": true}, {"year": 1998, "month": 8, "date": 1, "utc": true}, {"year": 1998, "month": 11, "date": 1, "utc": true}],
                "labelExpr": "utcFormat(datum.value, '%b %y')", "labelAngle": -45, "labelAlign": "right", "labelBaseline": "top", "labelFontSize": 10, "labelPadding": 2, "titlePadding": 5, "labelOverlap": false}
            }
          },
          "layer": [
            {"data": {"name": "B_band"}, "mark": {"type": "area", "color": "#e8e8e8", "opacity": 0.5},
              "encoding": {"y": {"field": "lo", "type": "quantitative", "title": "Percentage of total worms alive", "scale": {"domain": [-5, 105], "nice": false, "zero": false}, "axis": {"values": [0, 25, 50, 75, 100], "labelExpr": "datum.value + '%'", "titlePadding": 4.5}}, "y2": {"field": "hi"}}},
            {"data": {"name": "B_curve"}, "transform": [{"filter": {"field": "dose", "equal": "standard (150 µg/kg)"}}], "mark": {"type": "line", "strokeWidth": 3.2},
              "encoding": {"y": {"field": "pct", "type": "quantitative", "title": "Percentage of total worms alive"}, "color": {"field": "dose", "type": "nominal", "scale": {"domain": ["high (800 µg/kg)", "standard (150 µg/kg)"], "range": ["#555555", "#8c8c8c"]},
                "legend": {"title": "Dose", "orient": "none", "legendX": 21, "legendY": 187.5, "symbolSize": 144, "symbolStrokeWidth": 0, "symbolOffset": 4.3, "labelAlign": "right", "labelOffset": 114,
                  "encode": {"symbols": {"update": {"shape": {"signal": "datum.value === 'high (800 µg/kg)' ? 'M-1.45,-0.27H-0.6V0.27H-1.45Z M0.6,-0.27H1.45V0.27H0.6Z M0.72,0A0.72,0.72 0 1,1 -0.72,0A0.72,0.72 0 1,1 0.72,0Z M0.55,0A0.55,0.55 0 1,0 -0.55,0A0.55,0.55 0 1,0 0.55,0Z' : 'M-1.45,-0.27H-0.46V0.27H-1.45Z M0.46,-0.27H1.45V0.27H0.46Z M0,-0.85L0.85,0.65L-0.85,0.65Z M0,-0.505L-0.558,0.48L0.558,0.48Z'"}, "fill": {"signal": "datum.value === 'high (800 µg/kg)' ? '#555555' : '#8c8c8c'"}, "fillOpacity": {"value": 1}, "strokeWidth": {"value": 0}}}}}}}},
            {"data": {"name": "B_curve"}, "transform": [{"filter": {"field": "dose", "equal": "high (800 µg/kg)"}}], "mark": {"type": "line", "strokeWidth": 3.2},
              "encoding": {"y": {"field": "pct", "type": "quantitative", "title": "Percentage of total worms alive"}, "color": {"field": "dose", "type": "nominal"}}},
            {"data": {"name": "B_obs"}, "mark": {"type": "rule", "color": "black", "strokeWidth": 1.2},
              "encoding": {"y": {"field": "lo", "type": "quantitative", "title": "Percentage of total worms alive"}, "y2": {"field": "hi"}}},
            {"data": {"name": "B_obs"}, "mark": {"type": "point", "filled": true, "fill": "white", "stroke": "black", "strokeWidth": 1, "size": 65, "opacity": 1},
              "encoding": {"y": {"field": "pct", "type": "quantitative", "title": "Percentage of total worms alive"}, "shape": {"field": "dose", "type": "nominal", "scale": {"range": ["circle", "triangle-up"]}, "legend": null}}}
          ]
        }
      ],
      "spacing": 15,
      "resolve": {"scale": {"color": "independent", "shape": "independent"}, "legend": {"color": "independent", "shape": "independent"}}
    },
    {
      "hconcat": [
        {
          "width": 343, "height": 276,
          "title": {"text": "C", "subtitle": ["\u200b\u00a0\u00a0\u00a0\u00a0\u00a0\u00a0\u00a0Standard (annual) frequency standard", "\u200b\u00a0\u00a0\u00a0\u00a0\u00a0\u00a0\u00a0(150 µg/kg) and high (800 µg/kg) dose"], "anchor": "start", "frame": "group", "dx": -28, "fontSize": 15.5, "fontWeight": "bold", "subtitleFontSize": 12.4, "subtitleFontWeight": "normal", "subtitleLineHeight": 14.3, "subtitlePadding": -13, "offset": 11},
          "encoding": {
            "x": {"field": "date", "type": "temporal", "title": "Study date",
              "scale": {"type": "utc", "nice": false, "domain": [{"year": 1993, "month": 11, "date": 7, "utc": true}, {"year": 1999, "month": 1, "date": 26, "utc": true}]},
              "axis": {"values": [{"year": 1994, "month": 2, "date": 1, "utc": true}, {"year": 1994, "month": 5, "date": 1, "utc": true}, {"year": 1994, "month": 8, "date": 1, "utc": true}, {"year": 1994, "month": 11, "date": 1, "utc": true}, {"year": 1995, "month": 2, "date": 1, "utc": true}, {"year": 1995, "month": 5, "date": 1, "utc": true}, {"year": 1995, "month": 8, "date": 1, "utc": true}, {"year": 1995, "month": 11, "date": 1, "utc": true}, {"year": 1996, "month": 2, "date": 1, "utc": true}, {"year": 1996, "month": 5, "date": 1, "utc": true}, {"year": 1996, "month": 8, "date": 1, "utc": true}, {"year": 1996, "month": 11, "date": 1, "utc": true}, {"year": 1997, "month": 2, "date": 1, "utc": true}, {"year": 1997, "month": 5, "date": 1, "utc": true}, {"year": 1997, "month": 8, "date": 1, "utc": true}, {"year": 1997, "month": 11, "date": 1, "utc": true}, {"year": 1998, "month": 2, "date": 1, "utc": true}, {"year": 1998, "month": 5, "date": 1, "utc": true}, {"year": 1998, "month": 8, "date": 1, "utc": true}, {"year": 1998, "month": 11, "date": 1, "utc": true}],
                "labelExpr": "utcFormat(datum.value, '%b %y')", "labelAngle": -45, "labelAlign": "right", "labelBaseline": "top", "labelFontSize": 10, "labelPadding": 2, "titlePadding": 5, "labelOverlap": false}
            }
          },
          "layer": [
            {"data": {"name": "C_band"}, "mark": {"type": "area", "color": "#e8e8e8", "opacity": 0.5},
              "encoding": {"y": {"field": "lo", "type": "quantitative", "title": "Percentage of live worms fertile", "scale": {"domain": [-5, 105], "nice": false, "zero": false}, "axis": {"values": [0, 25, 50, 75, 100], "labelExpr": "datum.value + '%'", "titlePadding": 4.5}}, "y2": {"field": "hi"}}},
            {"data": {"name": "C_curve"}, "transform": [{"filter": {"field": "dose", "equal": "standard (150 µg/kg)"}}], "mark": {"type": "line", "strokeWidth": 3.2},
              "encoding": {"y": {"field": "pct", "type": "quantitative", "title": "Percentage of live worms fertile"}, "color": {"field": "dose", "type": "nominal", "scale": {"domain": ["high (800 µg/kg)", "standard (150 µg/kg)"], "range": ["#555555", "#8c8c8c"]},
                "legend": {"title": "Dose", "orient": "none", "legendX": 193, "legendY": 49.5, "symbolSize": 144, "symbolStrokeWidth": 0, "symbolOffset": 4.3, "labelAlign": "right", "labelOffset": 112,
                  "encode": {"symbols": {"update": {"shape": {"signal": "datum.value === 'high (800 µg/kg)' ? 'M-1.45,-0.27H-0.6V0.27H-1.45Z M0.6,-0.27H1.45V0.27H0.6Z M0.72,0A0.72,0.72 0 1,1 -0.72,0A0.72,0.72 0 1,1 0.72,0Z M0.55,0A0.55,0.55 0 1,0 -0.55,0A0.55,0.55 0 1,0 0.55,0Z' : 'M-1.45,-0.27H-0.46V0.27H-1.45Z M0.46,-0.27H1.45V0.27H0.46Z M0,-0.85L0.85,0.65L-0.85,0.65Z M0,-0.505L-0.558,0.48L0.558,0.48Z'"}, "fill": {"signal": "datum.value === 'high (800 µg/kg)' ? '#555555' : '#8c8c8c'"}, "fillOpacity": {"value": 1}, "strokeWidth": {"value": 0}}}}}}}},
            {"data": {"name": "C_curve"}, "transform": [{"filter": {"field": "dose", "equal": "high (800 µg/kg)"}}], "mark": {"type": "line", "strokeWidth": 3.2},
              "encoding": {"y": {"field": "pct", "type": "quantitative", "title": "Percentage of live worms fertile"}, "color": {"field": "dose", "type": "nominal"}}},
            {"data": {"name": "C_obs"}, "mark": {"type": "rule", "color": "black", "strokeWidth": 1.2},
              "encoding": {"y": {"field": "lo", "type": "quantitative", "title": "Percentage of live worms fertile"}, "y2": {"field": "hi"}}},
            {"data": {"name": "C_obs"}, "mark": {"type": "point", "filled": true, "fill": "white", "stroke": "black", "strokeWidth": 1, "size": 65, "opacity": 1},
              "encoding": {"y": {"field": "pct", "type": "quantitative", "title": "Percentage of live worms fertile"}, "shape": {"field": "dose", "type": "nominal", "scale": {"range": ["circle", "triangle-up"]}, "legend": null}}}
          ]
        },
        {
          "width": 343, "height": 276,
          "title": {"text": "D", "subtitle": ["\u200b\u00a0\u00a0\u00a0\u00a0\u00a0\u00a0\u00a0\u00a0\u00a0\u00a0High (3−monthly) frequency standard", "\u200b\u00a0\u00a0\u00a0\u00a0\u00a0\u00a0\u00a0\u00a0\u00a0\u00a0(150 µg/kg) and high (800 µg/kg) dose"], "anchor": "start", "frame": "group", "dx": -26, "fontSize": 15.5, "fontWeight": "bold", "subtitleFontSize": 12.4, "subtitleFontWeight": "normal", "subtitleLineHeight": 14.3, "subtitlePadding": -13, "offset": 11},
          "encoding": {
            "x": {"field": "date", "type": "temporal", "title": "Study date",
              "scale": {"type": "utc", "nice": false, "domain": [{"year": 1993, "month": 11, "date": 7, "utc": true}, {"year": 1999, "month": 1, "date": 26, "utc": true}]},
              "axis": {"values": [{"year": 1994, "month": 2, "date": 1, "utc": true}, {"year": 1994, "month": 5, "date": 1, "utc": true}, {"year": 1994, "month": 8, "date": 1, "utc": true}, {"year": 1994, "month": 11, "date": 1, "utc": true}, {"year": 1995, "month": 2, "date": 1, "utc": true}, {"year": 1995, "month": 5, "date": 1, "utc": true}, {"year": 1995, "month": 8, "date": 1, "utc": true}, {"year": 1995, "month": 11, "date": 1, "utc": true}, {"year": 1996, "month": 2, "date": 1, "utc": true}, {"year": 1996, "month": 5, "date": 1, "utc": true}, {"year": 1996, "month": 8, "date": 1, "utc": true}, {"year": 1996, "month": 11, "date": 1, "utc": true}, {"year": 1997, "month": 2, "date": 1, "utc": true}, {"year": 1997, "month": 5, "date": 1, "utc": true}, {"year": 1997, "month": 8, "date": 1, "utc": true}, {"year": 1997, "month": 11, "date": 1, "utc": true}, {"year": 1998, "month": 2, "date": 1, "utc": true}, {"year": 1998, "month": 5, "date": 1, "utc": true}, {"year": 1998, "month": 8, "date": 1, "utc": true}, {"year": 1998, "month": 11, "date": 1, "utc": true}],
                "labelExpr": "utcFormat(datum.value, '%b %y')", "labelAngle": -45, "labelAlign": "right", "labelBaseline": "top", "labelFontSize": 10, "labelPadding": 2, "titlePadding": 5, "labelOverlap": false}
            }
          },
          "layer": [
            {"data": {"name": "D_band"}, "mark": {"type": "area", "color": "#e8e8e8", "opacity": 0.5},
              "encoding": {"y": {"field": "lo", "type": "quantitative", "title": "Percentage of live worms fertile", "scale": {"domain": [-5, 105], "nice": false, "zero": false}, "axis": {"values": [0, 25, 50, 75, 100], "labelExpr": "datum.value + '%'", "titlePadding": 4.5}}, "y2": {"field": "hi"}}},
            {"data": {"name": "D_curve"}, "transform": [{"filter": {"field": "dose", "equal": "standard (150 µg/kg)"}}], "mark": {"type": "line", "strokeWidth": 3.2},
              "encoding": {"y": {"field": "pct", "type": "quantitative", "title": "Percentage of live worms fertile"}, "color": {"field": "dose", "type": "nominal", "scale": {"domain": ["high (800 µg/kg)", "standard (150 µg/kg)"], "range": ["#555555", "#8c8c8c"]},
                "legend": {"title": "Dose", "orient": "none", "legendX": 194, "legendY": 49.5, "symbolSize": 144, "symbolStrokeWidth": 0, "symbolOffset": 4.3, "labelAlign": "right", "labelOffset": 112,
                  "encode": {"symbols": {"update": {"shape": {"signal": "datum.value === 'high (800 µg/kg)' ? 'M-1.45,-0.27H-0.6V0.27H-1.45Z M0.6,-0.27H1.45V0.27H0.6Z M0.72,0A0.72,0.72 0 1,1 -0.72,0A0.72,0.72 0 1,1 0.72,0Z M0.55,0A0.55,0.55 0 1,0 -0.55,0A0.55,0.55 0 1,0 0.55,0Z' : 'M-1.45,-0.27H-0.46V0.27H-1.45Z M0.46,-0.27H1.45V0.27H0.46Z M0,-0.85L0.85,0.65L-0.85,0.65Z M0,-0.505L-0.558,0.48L0.558,0.48Z'"}, "fill": {"signal": "datum.value === 'high (800 µg/kg)' ? '#555555' : '#8c8c8c'"}, "fillOpacity": {"value": 1}, "strokeWidth": {"value": 0}}}}}}}},
            {"data": {"name": "D_curve"}, "transform": [{"filter": {"field": "dose", "equal": "high (800 µg/kg)"}}], "mark": {"type": "line", "strokeWidth": 3.2},
              "encoding": {"y": {"field": "pct", "type": "quantitative", "title": "Percentage of live worms fertile"}, "color": {"field": "dose", "type": "nominal"}}},
            {"data": {"name": "D_obs"}, "mark": {"type": "rule", "color": "black", "strokeWidth": 1.2},
              "encoding": {"y": {"field": "lo", "type": "quantitative", "title": "Percentage of live worms fertile"}, "y2": {"field": "hi"}}},
            {"data": {"name": "D_obs"}, "mark": {"type": "point", "filled": true, "fill": "white", "stroke": "black", "strokeWidth": 1, "size": 65, "opacity": 1},
              "encoding": {"y": {"field": "pct", "type": "quantitative", "title": "Percentage of live worms fertile"}, "shape": {"field": "dose", "type": "nominal", "scale": {"range": ["circle", "triangle-up"]}, "legend": null}}}
          ]
        }
      ],
      "spacing": 15,
      "resolve": {"scale": {"color": "independent", "shape": "independent"}, "legend": {"color": "independent", "shape": "independent"}}
    }
  ],
  "spacing": 13,
  "resolve": {"scale": {"color": "independent", "shape": "independent"}, "legend": {"color": "independent", "shape": "independent"}}
}
